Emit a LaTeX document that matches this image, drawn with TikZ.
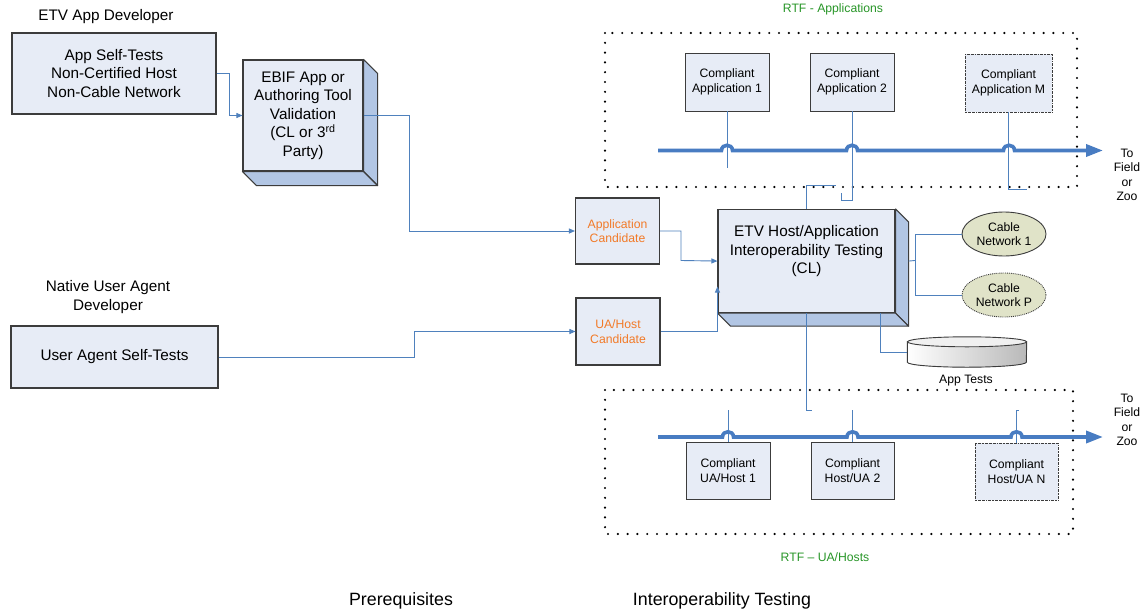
\documentclass[tikz,border=0pt]{standalone}
\usepackage{fontspec}
\setmainfont{Liberation Sans}
\usetikzlibrary{calc,positioning,arrows,arrows.meta,shapes.geometric}
\definecolor{boxfill}{RGB}{231,236,246}
\definecolor{sidefill}{RGB}{178,198,228}
\definecolor{edgegray}{RGB}{60,60,60}
\definecolor{linkblue}{RGB}{79,129,189}
\definecolor{busblue}{RGB}{72,124,194}
\definecolor{candorange}{RGB}{242,122,40}
\definecolor{rtfgreen}{RGB}{40,150,40}
\definecolor{netfill}{RGB}{224,227,200}
\tikzset{
>={Triangle[length=6pt,width=5pt]},
  box/.style={
    rectangle,
    draw=edgegray, line width=1.1pt,
    fill=boxfill,
    align=center,
    inner sep=1pt},
  side/.style={fill=sidefill, draw=edgegray, line width=1.1pt, line join=round},
  nthbox/.style={box, dash pattern=on 2pt off 0.8pt on 0.6pt off 0.8pt, line width=0.8pt},
  bigtext/.style={font=\fontsize{15.3}{18.5}\selectfont},
  midtext/.style={font=\fontsize{12.2}{14.5}\selectfont},
  bottomtext/.style={font=\fontsize{17.8}{20}\selectfont},
  net/.style={ellipse, draw=edgegray, line width=0.9pt, fill=netfill, midtext,
    align=center, inner sep=0pt, minimum width=84pt, minimum height=44pt},
  cand/.style={box, midtext, text=candorange, minimum width=84pt, minimum height=66pt},
  compl/.style={box, midtext, line width=0.9pt, minimum width=84pt, minimum height=58pt},
  link/.style={draw=linkblue, line width=0.9pt},
  bus/.style={draw=busblue, line width=3.6pt,
    -{Triangle[length=17pt,width=12pt]}},
  dotframe/.style={line width=2.4pt, dash pattern=on 0pt off 9.8pt, line cap=round},
  rtf/.style={midtext, text=rtfgreen},
}
% side and bottom faces of a raised block
\newcommand{\extrude}[2]{%
  \filldraw[side] (#1.north east) -- ++(#2,#2) -- ($(#1.south east)+(#2,#2)$)
    -- (#1.south east) -- cycle;
  \filldraw[side] (#1.south west) -- ++(#2,#2) -- ($(#1.south east)+(#2,#2)$)
    -- (#1.south east) -- cycle;}

\begin{document}
\begin{tikzpicture}[x=1pt,y=-1pt]
\useasboundingbox[fill=white] (0,0) rectangle (1143,613);

% RTF frames
\draw[dotframe] (605,33) rectangle (1077,187);
\draw[dotframe] (605,390) rectangle (1073,534);
\node[rtf] (rtfapps) at (833,9) {RTF - Applications};
\node[rtf] (rtfhosts) at (825,557) {RTF -- UA/Hosts};

% prerequisites
\node[bigtext] (appdev) at (106,17) {ETV App Developer};
\node[box, bigtext, minimum width=204pt, minimum height=81pt] (selftest) at (114,73.5)
  {App Self-Tests\\Non-Certified Host\\Non-Cable Network};
\node[box, bigtext, minimum width=120pt, minimum height=111pt] (ebif) at (303,115.5)
  {EBIF App or\\Authoring Tool\\Validation\\(CL or 3\textsuperscript{rd}\\Party)};
\extrude{ebif}{14}
\node[bigtext, align=center] (uadev) at (108,297) {Native User Agent\\Developer};
\node[box, bigtext, minimum width=207pt, minimum height=62pt] (uaself) at (114.5,357)
  {User Agent Self-Tests};

% candidates
\node[cand] (appcand) at (617.5,231) {Application\\Candidate};
\node[cand, minimum height=67pt] (uacand) at (618,331.5) {UA/Host\\Candidate};

% interop testing
\node[box, bigtext, minimum width=177pt, minimum height=103pt, anchor=north] (etv) at (806.5,209)
  {};
\node[bigtext, align=center, anchor=north] (etvtext) at (806.5,222)
  {ETV Host/Application\\Interoperability Testing\\(CL)};
\extrude{etv}{13}
\node[net] (cable1) at (1004,234) {Cable\\Network 1};
\node[net, densely dotted] (cablep) at (1004,295) {Cable\\Network P};

% app tests store
\node[minimum width=119pt, minimum height=30pt, inner sep=0pt] (apptests) at (967,352) {};
\fill[left color=white, right color=gray!55, draw=edgegray, line width=0.9pt]
  (apptests.north west) ++(0,5) -- ($(apptests.south west)+(0,-5)$)
  arc[start angle=180, end angle=0, x radius=59.5, y radius=5]
  -- ($(apptests.north east)+(0,5)$) -- cycle;
\filldraw[fill=gray!12, draw=edgegray, line width=0.9pt]
  ($(apptests.north)+(0,5)$) ellipse [x radius=59.5, y radius=5];
\node[midtext] (apptestslbl) at (966,381) {App Tests};

% compliant applications
\node[compl] (app1) at (727,82) {Compliant\\Application 1};
\node[compl] (app2) at (852,82) {Compliant\\Application 2};
\node[compl, nthbox, minimum width=87pt] (appm) at (1008.5,83) {Compliant\\Application M};

% compliant hosts
\node[compl, minimum height=57pt] (ua1) at (728,470.5) {Compliant\\UA/Host 1};
\node[compl, minimum height=57pt, minimum width=83pt] (ua2) at (852.5,470.5) {Compliant\\Host/UA 2};
\node[compl, nthbox, minimum height=57pt, minimum width=83pt] (uan) at (1016.5,471.5) {Compliant\\Host/UA N};

\node[midtext, align=center] (field1) at (1127,175) {To\\Field\\or\\Zoo};
\node[midtext, align=center] (field2) at (1127,420) {To\\Field\\or\\Zoo};
\node[bottomtext] (prereq) at (401,601) {Prerequisites};
\node[bottomtext] (interop) at (722,601) {Interoperability Testing};

% connectors
\draw[link,->] (selftest.east) -| (229,115.5) -- (ebif.west);
\draw[link,->] (ebif.east) -| (409,231) -- (appcand.west);
\draw[link,->] (uaself.east) -| (414,331.5) -- (uacand.west);
\draw[link,->] (appcand.east) -| (681,260.5) -- (etv.west);
\draw[link,->] (uacand.east) -| ($(etv.west)+(0,25.5)$);
\draw[link] ($(etv.east)+(13,0)$) -- (915,260.5);
\draw[link] (cable1.west) -- (915,234) |- (cablep.west);
\draw[link] ($(etv.south east)+(-15,0)$) |- (apptests.west);
\draw[link] (etv.north) |- (836,185) (841,193) |- (852,200) -- (app2.south);
\draw[link] (etv.south) |- (812,410);
\draw[link] (app1.south) -- (727,168);
\draw[link] (appm.south) |- (1027,189);
\draw[link] (ua1.north) -- (728,410);
\draw[link] (ua2.north) -- (852.5,410);
\draw[link] (uan.north) -- (1016.5,410) -- (1019,410);

% buses
\draw[bus] (658,150.5) \foreach \hx in {727,852,1009}{
  -- (\hx-5.5,150.5) .. controls (\hx-5.5,143.5) and (\hx+5.5,143.5) .. (\hx+5.5,150.5)}
  -- (1103,150.5);
\draw[bus] (658,437) \foreach \hx in {728,852.5,1016.5}{
  -- (\hx-5.5,437) .. controls (\hx-5.5,430) and (\hx+5.5,430) .. (\hx+5.5,437)}
  -- (1103,437);
\end{tikzpicture}
\end{document}
